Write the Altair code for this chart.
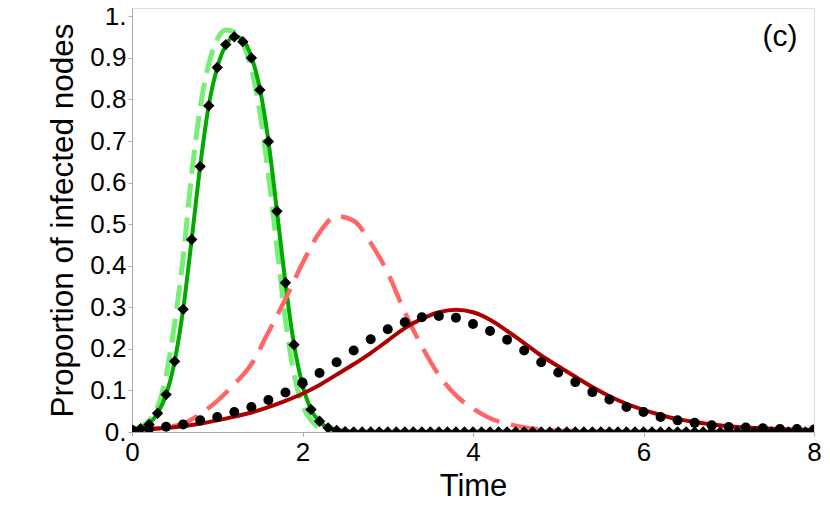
import altair as alt
import numpy as np
import pandas as pd

# time grids
t_fine = [round(i * 0.1, 1) for i in range(81)]
t_coarse = [round(i * 0.2, 1) for i in range(41)]

# green solid curve (0.1 steps)
green_solid = [0.005, 0.01, 0.02, 0.045, 0.09, 0.17, 0.295, 0.463, 0.64, 0.785,
               0.877, 0.93, 0.952, 0.943, 0.903, 0.826, 0.70, 0.532, 0.358, 0.211,
               0.113, 0.054, 0.025, 0.01, 0.004, 0.002, 0.001, 0.0, 0.0, 0.0,
               0.0, 0.0, 0.0, 0.0, 0.0, 0.0, 0.0, 0.0, 0.0, 0.0,
               0.0, 0.0, 0.0, 0.0, 0.0, 0.0, 0.0, 0.0, 0.0, 0.0,
               0.0, 0.0, 0.0, 0.0, 0.0, 0.0, 0.0, 0.0, 0.0, 0.0,
               0.0, 0.0, 0.0, 0.0, 0.0, 0.0, 0.0, 0.0, 0.0, 0.0,
               0.0, 0.0, 0.0, 0.0, 0.0, 0.0, 0.0, 0.0, 0.0, 0.0, 0.0]

# green dashed curve (0.1 steps)
green_dashed = [0.005, 0.012, 0.028, 0.06, 0.135, 0.26, 0.42, 0.62, 0.78, 0.885,
                0.945, 0.967, 0.962, 0.935, 0.875, 0.77, 0.62, 0.445, 0.27, 0.14,
                0.065, 0.028, 0.01, 0.004, 0.001, 0.0, 0.0, 0.0, 0.0, 0.0,
                0.0, 0.0, 0.0, 0.0, 0.0, 0.0, 0.0, 0.0, 0.0, 0.0,
                0.0, 0.0, 0.0, 0.0, 0.0, 0.0, 0.0, 0.0, 0.0, 0.0,
                0.0, 0.0, 0.0, 0.0, 0.0, 0.0, 0.0, 0.0, 0.0, 0.0,
                0.0, 0.0, 0.0, 0.0, 0.0, 0.0, 0.0, 0.0, 0.0, 0.0,
                0.0, 0.0, 0.0, 0.0, 0.0, 0.0, 0.0, 0.0, 0.0, 0.0, 0.0]

# black diamonds (0.1 steps)
diamonds = [0.0, 0.008, 0.018, 0.045, 0.09, 0.17, 0.295, 0.463, 0.639, 0.785,
            0.877, 0.932, 0.951, 0.939, 0.90, 0.823, 0.699, 0.531, 0.359, 0.21,
            0.115, 0.054, 0.026, 0.01, 0.004, 0.001, 0.0, 0.0, 0.0, 0.0,
            0.0, 0.0, 0.0, 0.0, 0.0, 0.0, 0.0, 0.0, 0.0, 0.0,
            0.0, 0.0, 0.0, 0.0, 0.0, 0.0, 0.0, 0.0, 0.0, 0.0,
            0.0, 0.0, 0.0, 0.0, 0.0, 0.0, 0.0, 0.0, 0.0, 0.0,
            0.0, 0.0, 0.0, 0.0, 0.0, 0.0, 0.0, 0.0, 0.0, 0.0,
            0.0, 0.0, 0.0, 0.0, 0.0, 0.0, 0.0, 0.0, 0.0, 0.0, 0.0]

# dark red solid curve (0.2 steps)
red_solid = [0.005, 0.007, 0.01, 0.014, 0.02, 0.028, 0.037, 0.047, 0.06, 0.075,
             0.092, 0.113, 0.138, 0.163, 0.19, 0.22, 0.25, 0.272, 0.288, 0.294,
             0.288, 0.27, 0.243, 0.214, 0.184, 0.158, 0.133, 0.108, 0.086, 0.068,
             0.053, 0.041, 0.031, 0.024, 0.018, 0.014, 0.011, 0.009, 0.007, 0.006, 0.005]

# light red dashed curve (0.2 steps)
red_dashed = [0.004, 0.007, 0.011, 0.02, 0.043, 0.075, 0.115, 0.163, 0.24, 0.32,
              0.406, 0.48, 0.519, 0.508, 0.455, 0.383, 0.288, 0.206, 0.137, 0.088,
              0.056, 0.033, 0.02, 0.011, 0.006, 0.003, 0.002, 0.001, 0.001, 0.0,
              0.0, 0.0, 0.0, 0.0, 0.0, 0.0, 0.0, 0.0, 0.0, 0.0, 0.0]

# black circles (0.2 steps)
circles = [0.005, 0.008, 0.0125, 0.018, 0.028, 0.036, 0.048, 0.06, 0.077, 0.095,
           0.119, 0.142, 0.168, 0.196, 0.223, 0.247, 0.264, 0.276, 0.279, 0.275,
           0.26, 0.243, 0.222, 0.196, 0.168, 0.143, 0.12, 0.096, 0.078, 0.06,
           0.048, 0.036, 0.028, 0.022, 0.016, 0.012, 0.011, 0.009, 0.007, 0.007, 0.006]

y_ticks = [0, 0.1, 0.2, 0.3, 0.4, 0.5, 0.6, 0.7, 0.8, 0.9, 1.0]
x_ticks = [0, 2, 4, 6, 8]
panel_label = "(c)"

FONT = "Liberation Sans"
GRAY = "#aaaaaa"

fine = pd.DataFrame({"t": t_fine, "gs": green_solid, "gd": green_dashed, "dm": diamonds})
coarse = pd.DataFrame({"t": t_coarse, "rs": red_solid, "rd": red_dashed, "ci": circles})

xscale = alt.Scale(domain=[0, 8], nice=False, zero=False)
yscale = alt.Scale(domain=[0, 1.02], nice=False)

xax = alt.Axis(values=x_ticks, title="Time", grid=False, labelFontSize=26,
               titleFontSize=31, labelFont=FONT, titleFont=FONT, titleFontWeight="normal",
               labelColor="black", titleColor="black", domainColor=GRAY, tickColor=GRAY,
               tickSize=4, labelPadding=3, titlePadding=6, labelFlush=False,
               labelOverlap=False)
yax = alt.Axis(values=y_ticks, title="Proportion of infected nodes", grid=False,
               labelFontSize=26, titleFontSize=31.5, labelFont=FONT, titleFont=FONT,
               titleFontWeight="normal", labelColor="black", titleColor="black",
               domainColor=GRAY, tickColor=GRAY, tickSize=4, labelPadding=2,
               titlePadding=10,
               labelExpr="datum.value == 1 ? '1.' : datum.value == 0 ? '0.' : format(datum.value, '.1f')",
               labelOverlap=False, labelFlush=False)

X = alt.X("t:Q", scale=xscale, axis=xax)

def yenc(col):
    return alt.Y(f"{col}:Q", scale=yscale, axis=yax)

gd_line = alt.Chart(fine).mark_line(color="#77ee77", strokeWidth=5, strokeDash=[24, 10],
                                    interpolate="monotone", clip=True).encode(x=X, y=yenc("gd"))
gs_line = alt.Chart(fine).mark_line(color="#00aa00", strokeWidth=4,
                                    interpolate="monotone", clip=True).encode(x=X, y=yenc("gs"))
rd_line = alt.Chart(coarse).mark_line(color="#ff6666", strokeWidth=4.5, strokeDash=[28, 12],
                                      interpolate="monotone", clip=True).encode(x=X, y=yenc("rd"))
rs_line = alt.Chart(coarse).mark_line(color="#aa0000", strokeWidth=4,
                                      interpolate="monotone", clip=True).encode(x=X, y=yenc("rs"))
circ = alt.Chart(coarse).mark_point(shape="circle", filled=True, color="black", opacity=1,
                                    size=100, clip=True).encode(x=X, y=yenc("ci"))
diam = alt.Chart(fine).mark_point(shape="diamond", filled=True, color="black", opacity=1,
                                  size=130, clip=True).encode(x=X, y=yenc("dm"))
lab = alt.Chart(pd.DataFrame({"t": [7.6], "v": [0.95], "s": [panel_label]})).mark_text(
    font=FONT, fontSize=30, color="black", align="center", baseline="middle"
).encode(x=X, y=yenc("v"), text="s:N")

chart = alt.layer(gd_line, gs_line, rd_line, rs_line, circ, diam, lab).properties(
    width=682, height=424,
    padding={"left": 124, "top": 0, "right": 8, "bottom": 76},
    autosize=alt.AutoSizeParams(type="none"),
).configure_view(stroke=GRAY, strokeWidth=1).configure(background="white")

chart.save("out.html", embed_options={"renderer": "svg", "actions": False})
